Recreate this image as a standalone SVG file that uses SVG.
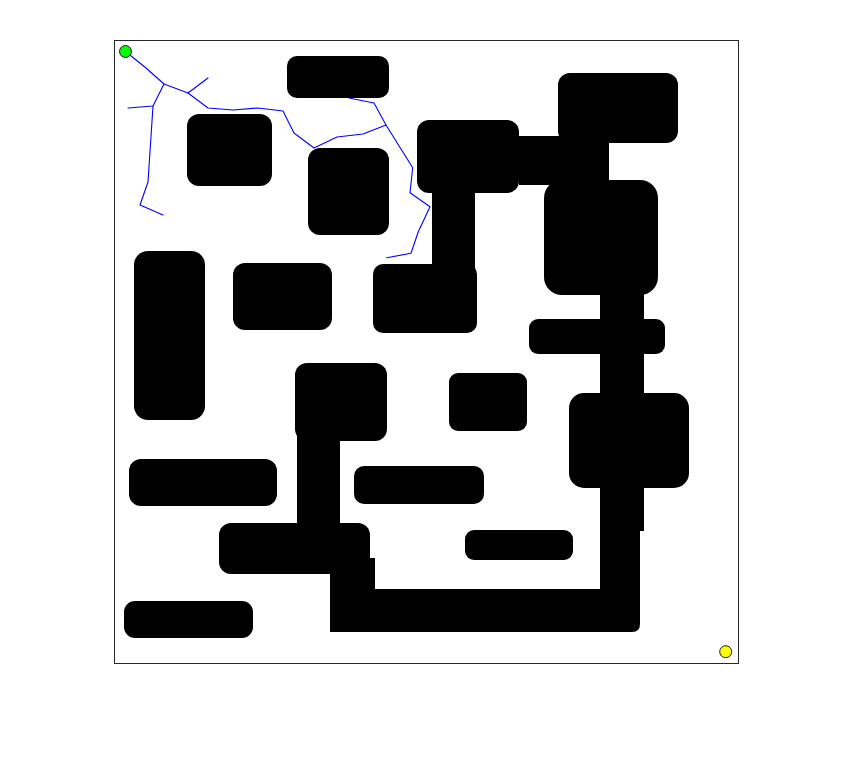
<svg xmlns="http://www.w3.org/2000/svg" width="855" height="766" viewBox="0 0 855 766">
<style>
.obs{fill:#000;stroke:none}
.tree{fill:none;stroke:#0000ff;stroke-width:1.1;stroke-linejoin:round;stroke-linecap:round}
.frame{fill:#fff;stroke:#262626;stroke-width:1}
</style>
<rect x="0" y="0" width="855" height="766" fill="#fff"/>
<rect class="frame" x="114.5" y="40.5" width="624" height="623"/>
<g id="obstacles">
  <rect class="obs" x="287" y="56" width="102" height="42" rx="10"/>
  <rect class="obs" x="187" y="114" width="85" height="72" rx="12"/>
  <rect class="obs" x="308" y="148" width="81" height="87" rx="12"/>
  <rect class="obs" x="417" y="120" width="102" height="73" rx="12"/>
  <rect class="obs" x="519" y="136" width="90" height="49"/>
  <rect class="obs" x="558" y="73" width="120" height="70" rx="12"/>
  <rect class="obs" x="558" y="136" width="51" height="50"/>
  <rect class="obs" x="544" y="180" width="114" height="115" rx="18"/>
  <rect class="obs" x="432" y="185" width="43" height="92"/>
  <rect class="obs" x="373" y="264" width="104" height="69" rx="10"/>
  <rect class="obs" x="600" y="288" width="44" height="243"/>
  <rect class="obs" x="529" y="319" width="136" height="35" rx="9"/>
  <rect class="obs" x="569" y="393" width="120" height="95" rx="15"/>
  <path class="obs" d="M600,525 H640 V624 Q640,632 632,632 H330 V589 H600 Z"/>
  <rect class="obs" x="134" y="251" width="71" height="169" rx="14"/>
  <rect class="obs" x="233" y="263" width="99" height="67" rx="12"/>
  <rect class="obs" x="449" y="373" width="78" height="58" rx="9"/>
  <rect class="obs" x="295" y="363" width="92" height="78" rx="12"/>
  <rect class="obs" x="297" y="430" width="43" height="100"/>
  <rect class="obs" x="129" y="459" width="148" height="47" rx="12"/>
  <rect class="obs" x="354" y="466" width="130" height="38" rx="10"/>
  <rect class="obs" x="219" y="523" width="151" height="51" rx="12"/>
  <rect class="obs" x="330" y="558" width="45" height="40"/>
  <rect class="obs" x="465" y="530" width="108" height="30" rx="9"/>
  <rect class="obs" x="124" y="601" width="129" height="37" rx="11"/>
</g>
<g id="tree">
  <polyline class="tree" points="125,51 146,68 164,84 188,93 208,108 233,110 258,108 283,111 294,133 314,148 337,137 363,134 386,125 412.7,167.7 410,192.7 430,206.7 418.3,231.7 411,253.3 386.7,257.7"/>
  <polyline class="tree" points="188,93 208,78"/>
  <polyline class="tree" points="386,125 374,103 349,98"/>
  <polyline class="tree" points="164,84 153,106 128,108"/>
  <polyline class="tree" points="153,106 148,182 140,205 163,215"/>
</g>
<g id="start"><circle cx="125.5" cy="51.5" r="6" fill="#00ff00" stroke="#1a1a1a" stroke-width="1"/></g>
<g id="goal"><circle cx="725.7" cy="651.7" r="6" fill="#ffff00" stroke="#1a1a1a" stroke-width="1"/></g>
</svg>
